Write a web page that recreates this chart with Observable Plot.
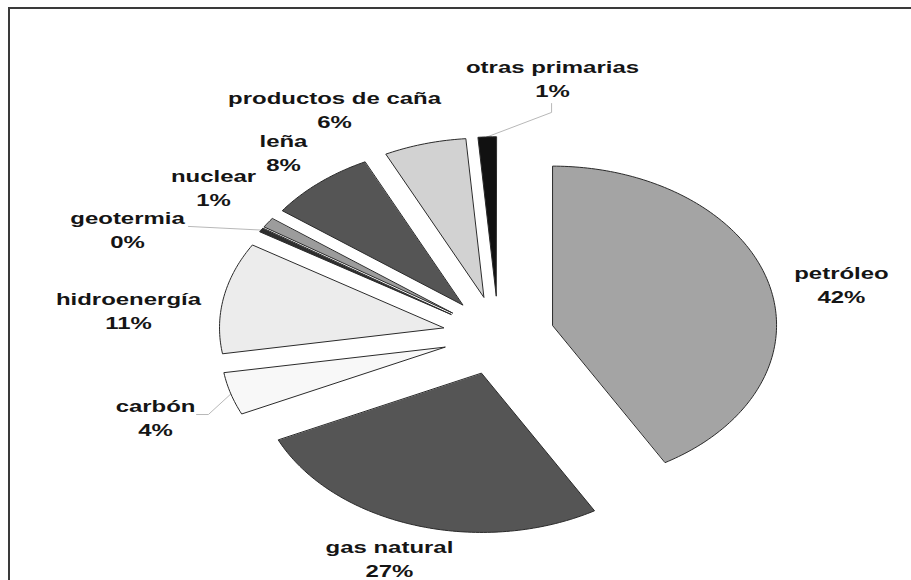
<!DOCTYPE html>
<html><head><meta charset="utf-8">
<script src="https://cdn.jsdelivr.net/npm/d3@7"></script>
<script src="https://cdn.jsdelivr.net/npm/@observablehq/plot@0.6"></script>
<style>
html,body{margin:0;padding:0;background:#fff;}
#wrap{position:relative;width:911px;height:580px;overflow:hidden;background:#fff;}
#chart{position:absolute;left:0;top:0;}
#frame{position:absolute;left:8px;top:7px;right:-10px;bottom:-10px;border-left:2px solid #3a3a3a;border-top:2px solid #3a3a3a;pointer-events:none;}
</style></head><body>
<div id="wrap"><div id="chart"></div><div id="frame"></div></div>
<script>
// ---- data (clockwise from 12 o'clock) ----
const categories = ["petróleo","gas natural","carbón","hidroenergía","geotermia","nuclear","leña","productos de caña","otras primarias"];
const shares     = [41.6, 26.5, 4.3, 11.3, 0.4, 1.0, 7.7, 5.9, 1.3];
const sliceFills = ["#a4a4a4","#555555","#f8f8f8","#ececec","#2e2e2e","#9c9c9c","#555555","#d2d2d2","#111111"];

// ---- layout (in pie-radius units, relative to pie centre) ----
const EXPLODE = 0.25;
const labelPos = [[1.531,0.327],[-0.487,-1.396],[-1.531,-0.509],[-1.652,0.164],[-1.656,0.673],[-1.272,0.937],[-0.960,1.157],[-0.732,1.428],[0.241,1.623]];
const leaderBends = {"geotermia": [[-1.384,0.686]], "carbón": [[-1.295,-0.497],[-1.348,-0.497]], "otras primarias": [[0.237,1.403],[0.237,1.459]]};

const W = 911, H = 580, CX = 498, CY = 335, RX = 224, RY = 159;

const total = d3.sum(shares);
let acc = 0;
const slices = categories.map((name, i) => {
  const a0 = acc / total * 2 * Math.PI; acc += shares[i];
  const a1 = acc / total * 2 * Math.PI;
  return {name, i, a0, a1, mid: (a0 + a1) / 2, fill: sliceFills[i], pct: Math.round(shares[i]) + "%"};
});

const slicePts = [];
for (const s of slices) {
  const ex = EXPLODE * Math.sin(s.mid), ey = EXPLODE * Math.cos(s.mid);
  slicePts.push({name: s.name, u: ex, v: ey, fill: s.fill});
  const n = Math.max(2, Math.ceil((s.a1 - s.a0) / (Math.PI / 180)));
  for (let j = 0; j <= n; j++) {
    const a = s.a0 + (s.a1 - s.a0) * j / n;
    slicePts.push({name: s.name, u: ex + Math.sin(a), v: ey + Math.cos(a), fill: s.fill});
  }
}

const leaderPts = [];
for (const s of slices) {
  const bends = leaderBends[s.name];
  if (!bends) continue;
  const ex = EXPLODE * Math.sin(s.mid), ey = EXPLODE * Math.cos(s.mid);
  leaderPts.push({name: s.name, u: ex + Math.sin(s.mid), v: ey + Math.cos(s.mid)});
  for (const [u, v] of bends) leaderPts.push({name: s.name, u, v});
}

const labels = slices.map((s, i) => ({name: s.name, pct: s.pct, u: labelPos[i][0], v: labelPos[i][1]}));

const svg = Plot.plot({
  width: W, height: H,
  margin: 0,
  x: {domain: [-CX / RX, (W - CX) / RX], axis: null},
  y: {domain: [(CY - H) / RY, CY / RY], axis: null},
  color: {type: "identity"},
  style: {background: "transparent"},
  marks: [
    Plot.line(leaderPts, {x: "u", y: "v", z: "name", stroke: "#b8b8b8", strokeWidth: 1}),
    Plot.line(slicePts, {x: "u", y: "v", z: "name", fill: "fill", stroke: "#2a2a2a", strokeWidth: 1, curve: "linear-closed", strokeLinejoin: "round"}),
    Plot.text(labels, {x: "u", y: "v", text: d => d.name + "\n" + d.pct, fontSize: 17, fontWeight: "bold",
      fontFamily: "Liberation Sans, Arial, sans-serif", lineHeight: 24 / 17, fill: "#151515", textAnchor: "middle"})
  ]
});
document.getElementById("chart").appendChild(svg);

// widen the label glyphs like the (horizontally stretched) original
svg.querySelectorAll('g[aria-label="text"] text').forEach(t => {
  const tr = t.getAttribute("transform");
  if (tr && tr.includes("translate")) {
    t.setAttribute("transform", tr + " scale(1.41,1)");
  } else {
    const x = +t.getAttribute("x") || 0, y = +t.getAttribute("y") || 0;
    t.removeAttribute("x"); t.removeAttribute("y");
    t.setAttribute("transform", `translate(${x},${y}) scale(1.41,1)` + (tr ? " " + tr : ""));
  }
});
</script>
</body></html>
